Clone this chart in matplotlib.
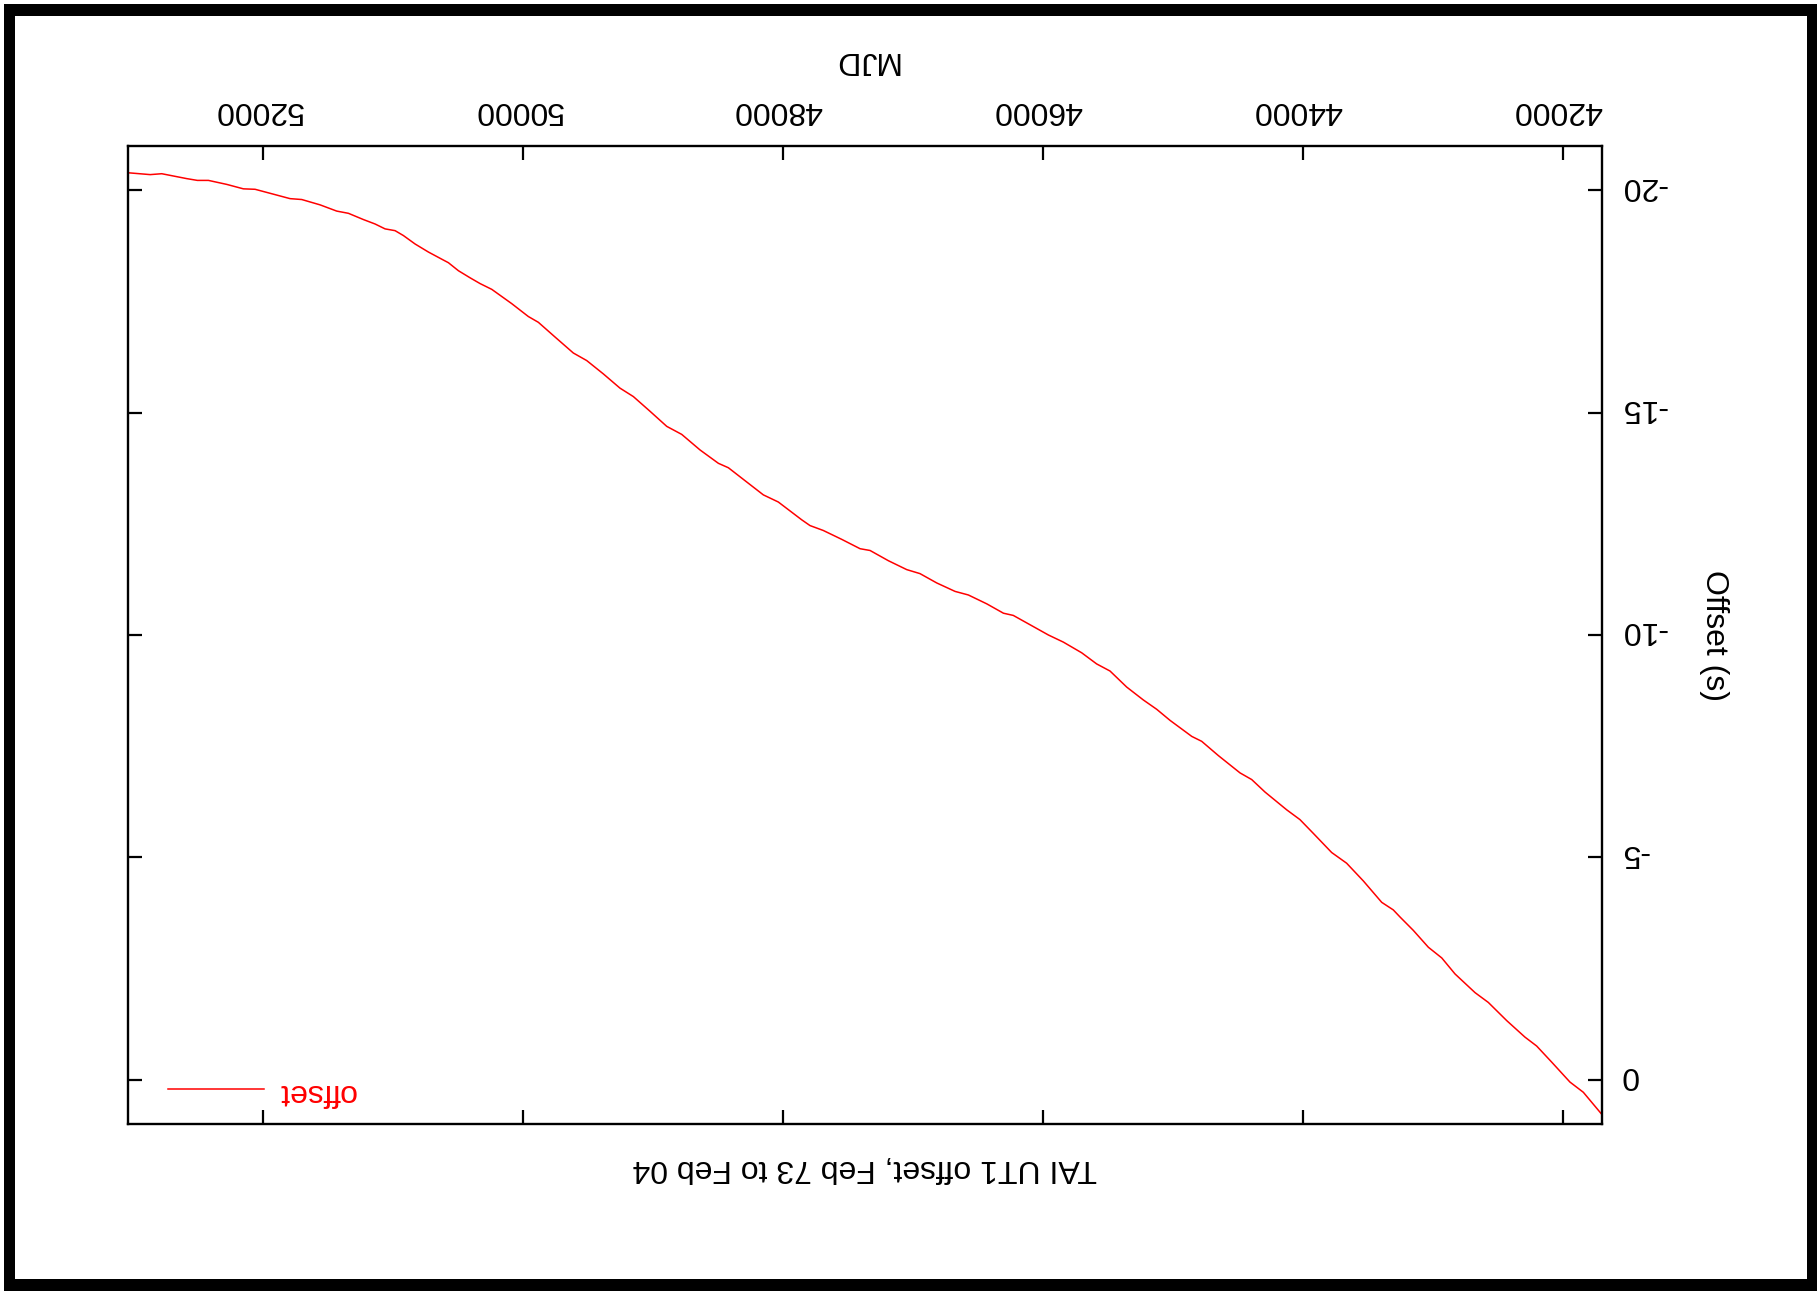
import matplotlib
matplotlib.use("Agg")
import matplotlib.pyplot as plt
from matplotlib.patches import Rectangle
from matplotlib.transforms import ScaledTranslation

plt.rcParams["font.family"] = ["Liberation Sans", "DejaVu Sans"]
plt.rcParams["axes.unicode_minus"] = False

# TAI - UT1 offset (MJD, seconds)
mjd = [41695, 41841, 41944, 42085, 42200, 42290, 42430, 42572, 42674, 42828,
       42930, 43033, 43149, 43251, 43303, 43392, 43533, 43662, 43777, 43918,
       44021, 44123, 44290, 44392, 44482, 44649, 44777, 44853, 45020, 45123,
       45226, 45354, 45482, 45585, 45700, 45841, 45956, 46097, 46226, 46302,
       46430, 46572, 46674, 46815, 46944, 47046, 47187, 47328, 47405, 47546,
       47688, 47790, 47854, 48034, 48149, 48277, 48418, 48495, 48636, 48777,
       48892, 49021, 49149, 49252, 49380, 49508, 49611, 49752, 49880, 49957,
       50085, 50238, 50328, 50405, 50495, 50572, 50611, 50726, 50828, 50918,
       50982, 51059, 51136, 51226, 51341, 51431, 51559, 51700, 51790, 51918,
       52059, 52149, 52277, 52418, 52503, 52585, 52777, 52866, 53030]
offset = [0.79, 0.28, 0.05, -0.40, -0.76, -0.96, -1.33, -1.74, -1.96, -2.38,
          -2.74, -2.98, -3.36, -3.66, -3.82, -3.99, -4.47, -4.87, -5.11, -5.54,
          -5.85, -6.07, -6.47, -6.75, -6.90, -7.29, -7.61, -7.72, -8.08, -8.33,
          -8.54, -8.83, -9.19, -9.35, -9.60, -9.84, -10.00, -10.23, -10.44, -10.49,
          -10.70, -10.90, -10.98, -11.17, -11.38, -11.47, -11.67, -11.90, -11.94, -12.15,
          -12.35, -12.46, -12.59, -12.99, -13.15, -13.44, -13.76, -13.86, -14.16, -14.51,
          -14.69, -15.03, -15.36, -15.55, -15.87, -16.17, -16.34, -16.70, -17.03, -17.16,
          -17.45, -17.77, -17.90, -18.03, -18.19, -18.37, -18.43, -18.61, -18.79, -18.98,
          -19.09, -19.13, -19.24, -19.34, -19.48, -19.53, -19.67, -19.79, -19.81, -19.91,
          -20.02, -20.03, -20.13, -20.22, -20.22, -20.26, -20.37, -20.35, -20.39]

xticks = [42000, 44000, 46000, 48000, 50000, 52000]
yticks = [0, -5, -10, -15, -20]

FS = 23
W, H = 1817, 1291
fig = plt.figure(figsize=(W / 100, H / 100), dpi=100)
ax = fig.add_axes([127.7 / W, 1 - 1124.3 / H, 1474.6 / W, 978.6 / H])

ax.plot(mjd, offset, color="#ff0000", lw=1.1, label="offset")

# the whole chart is drawn upside down (rotated by 180 degrees)
ax.set_xlim(53039, 41695)
ax.set_ylim(1, -21)
ax.set_xticks(xticks)
ax.set_yticks(yticks)

for s in ax.spines.values():
    s.set_linewidth(1.7)

ax.tick_params(axis="x", which="both", direction="in", top=True, bottom=True,
               labeltop=True, labelbottom=False, length=10, width=1.6,
               labelsize=FS, pad=12, labelrotation=180)
ax.tick_params(axis="y", which="both", direction="in", left=True, right=True,
               labelright=True, labelleft=False, length=10, width=1.6,
               labelsize=FS, pad=13, labelrotation=180)

# small nudges so the flipped labels sit like gnuplot's
px = 1 / 100
for t in ax.get_xticklabels():
    t.set_transform(t.get_transform() + ScaledTranslation(-4.5 * px, 4.5 * px, fig.dpi_scale_trans))
for t in ax.get_yticklabels():
    t.set_va("center")
    t.set_ha("left")
    t.set_transform(t.get_transform() + ScaledTranslation(0, 4.5 * px, fig.dpi_scale_trans))

ax.text(0.5, (1124.3 - 60) / 978.6, "MJD", transform=ax.transAxes,
        fontsize=FS, rotation=180, ha="center", va="center")
ax.text((1714 - 127.7) / 1474.6, 0.5, "Offset (s)", transform=ax.transAxes,
        fontsize=FS, rotation=270, ha="center", va="center")
ax.text(0.5, (1124.3 - 1168) / 978.6, "TAI UT1 offset, Feb 73 to Feb 04",
        transform=ax.transAxes, fontsize=FS, rotation=180, ha="center", va="center")

leg = ax.legend(loc="center left", bbox_to_anchor=(0.0273, 0.033), frameon=False,
                handlelength=3.0, handletextpad=0.45, borderpad=0, borderaxespad=0,
                labelcolor="#ff0000", fontsize=FS)
for t in leg.get_texts():
    t.set_rotation(180)

# black frame round the picture
for x0, y0, w, h in [(4, 4, W - 4, 12), (4, 4, 11, H - 4),
                     (W - 10, 4, 10, H - 4), (4, H - 12, W - 4, 12)]:
    fig.add_artist(Rectangle((x0 / W, 1 - (y0 + h) / H), w / W, h / H,
                             transform=fig.transFigure, color="black", lw=0))

fig.savefig("out.png", dpi=100)
